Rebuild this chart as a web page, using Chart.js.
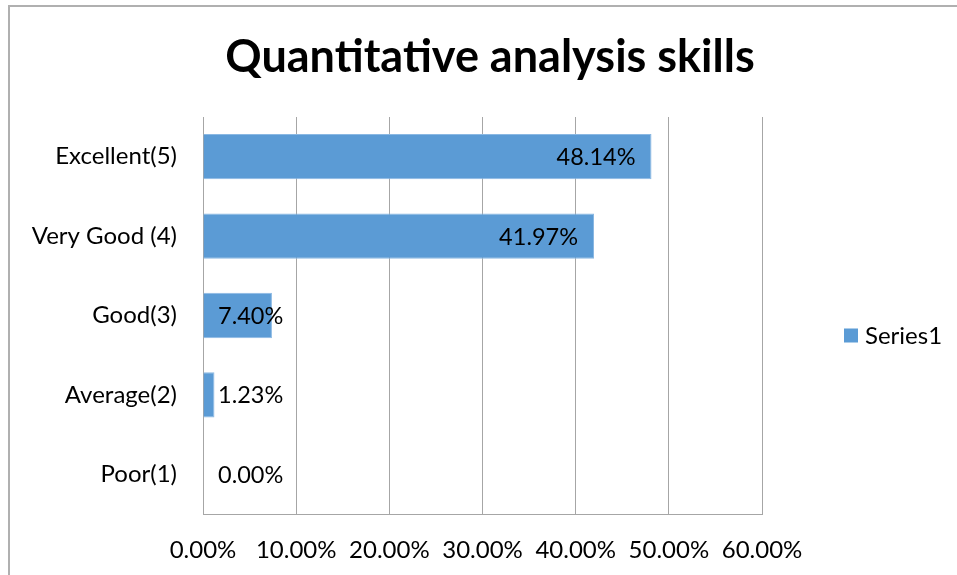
<!DOCTYPE html>
<html lang="en">
<head>
    <meta charset="UTF-8">
    <title>Quantitative analysis skills</title>
    <script src="https://cdn.jsdelivr.net/npm/chart.js"></script>
    <style>
        html, body { margin: 0; padding: 0; background: #fff; }
        #wrap { position: relative; width: 957px; height: 575px; overflow: hidden; }
        #frame {
            position: absolute; left: 8px; top: 5px; width: 1000px; height: 1000px;
            border-top: 2px solid #b0b0b0; border-left: 2px solid #b0b0b0;
            pointer-events: none;
        }
    </style>
</head>
<body>
<div id="wrap">
    <canvas id="myChart" width="957" height="575"></canvas>
    <div id="frame"></div>
</div>
<script>
    // chart data
    const categories = ['Excellent(5)', 'Very Good (4)', 'Good(3)', 'Average(2)', 'Poor(1)'];
    const values = [48.14, 41.97, 7.40, 1.23, 0.00];
    const seriesName = 'Series1';
    const xMin = 0, xMax = 60, xStep = 10;

    const FONT = 'Lato, "Open Sans", sans-serif';
    const BAR = '#5b9bd5';

    // value labels: right end inside the bar, pushed right when the bar is too short
    const barLabels = {
        id: 'barLabels',
        afterDatasetsDraw(chart) {
            const ctx = chart.ctx;
            const meta = chart.getDatasetMeta(0);
            ctx.save();
            ctx.font = '23.5px ' + FONT;
            ctx.fillStyle = '#000';
            ctx.textBaseline = 'middle';
            ctx.textAlign = 'left';
            meta.data.forEach((bar, i) => {
                const txt = values[i].toFixed(2) + '%';
                const w = ctx.measureText(txt).width;
                const x = Math.max(bar.x - 16 - w, chart.chartArea.left + 15);
                ctx.fillText(txt, x, bar.y + 1);
            });
            ctx.restore();
        }
    };

    // legend on the right, like the Excel one
    const sideLegend = {
        id: 'sideLegend',
        afterDraw(chart) {
            const ctx = chart.ctx;
            const a = chart.chartArea;
            const ds = chart.data.datasets[0];
            const bx = a.right + 82;
            const cy = (a.top + a.bottom) / 2 + 20;
            ctx.save();
            ctx.fillStyle = ds.backgroundColor;
            ctx.fillRect(bx, cy - 7, 14, 14);
            ctx.font = '24px ' + FONT;
            ctx.fillStyle = '#000';
            ctx.textBaseline = 'middle';
            ctx.fillText(ds.label, bx + 21, cy + 1);
            ctx.restore();
        }
    };

    const ctx = document.getElementById('myChart').getContext('2d');
    const myChart = new Chart(ctx, {
        type: 'bar',
        data: {
            labels: categories,
            datasets: [{
                label: seriesName,
                data: values,
                backgroundColor: BAR,
                borderColor: '#8ab8e3',
                borderWidth: 1,
                barPercentage: 0.57,
                categoryPercentage: 1
            }]
        },
        options: {
            indexAxis: 'y',
            responsive: false,
            animation: false,
            layout: { padding: { top: 0, left: 23, right: 0, bottom: 0 } },
            plugins: {
                legend: { display: false },
                tooltip: { enabled: false },
                title: {
                    display: true,
                    text: 'Quantitative analysis skills',
                    color: '#000',
                    font: { family: FONT, size: 45, weight: 'bold' },
                    padding: { top: 30, bottom: 33 }
                }
            },
            scales: {
                x: {
                    min: xMin,
                    max: xMax,
                    grid: { color: '#a6a6a6', lineWidth: 1, drawTicks: false },
                    border: { color: '#a6a6a6' },
                    ticks: {
                        stepSize: xStep,
                        maxRotation: 0,
                        autoSkip: false,
                        padding: 22,
                        color: '#000',
                        font: { family: FONT, size: 24 },
                        callback: v => v.toFixed(2) + '%'
                    },
                    afterFit(scale) {
                        scale.height = 61;
                        scale.paddingRight = 195;
                    }
                },
                y: {
                    grid: { display: false, drawTicks: false },
                    border: { color: '#a6a6a6' },
                    ticks: {
                        padding: 26,
                        color: '#000',
                        font: { family: FONT, size: 24 }
                    },
                    afterFit(scale) { scale.width = 180; }
                }
            }
        },
        plugins: [barLabels, sideLegend]
    });
</script>
</body>
</html>
